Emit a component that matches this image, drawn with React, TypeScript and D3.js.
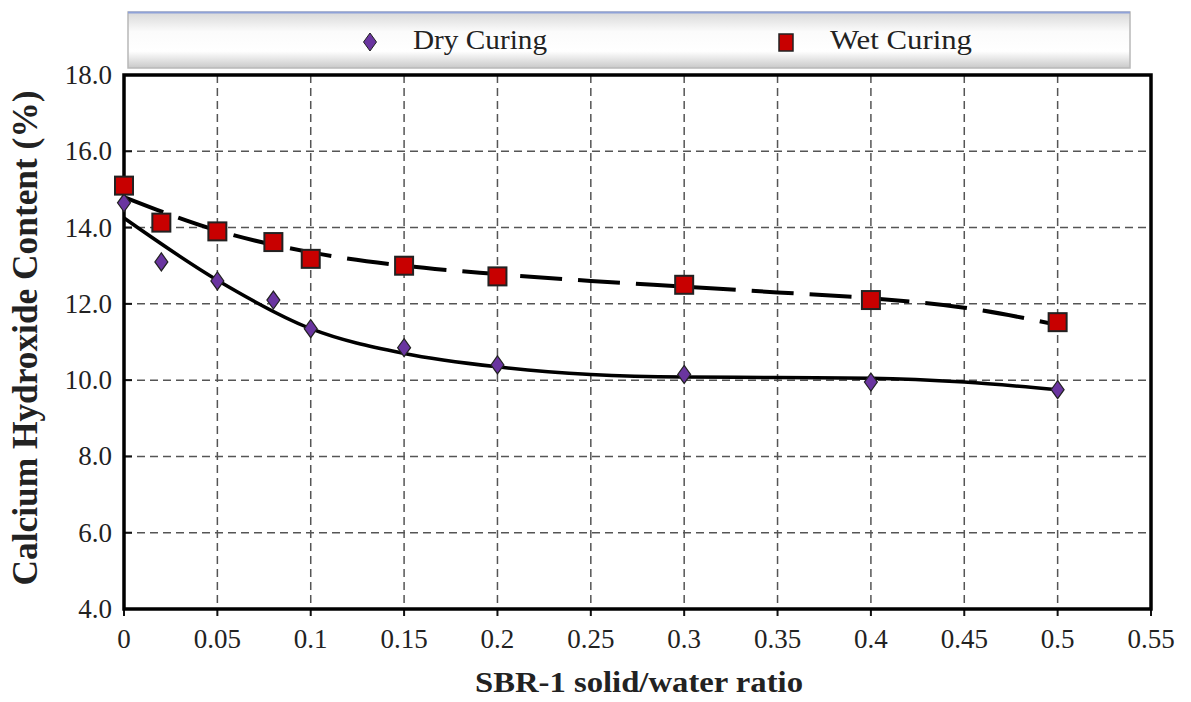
import React from "react";
import * as d3 from "d3";

// measured values
const ratios = [0, 0.02, 0.05, 0.08, 0.1, 0.15, 0.2, 0.3, 0.4, 0.5];
const dryCuring = [14.65, 13.1, 12.6, 12.1, 11.35, 10.85, 10.4, 10.15, 9.95, 9.75];
const wetCuring = [15.1, 14.13, 13.9, 13.62, 13.18, 13.0, 12.72, 12.5, 12.1, 11.52];

// trend lines
const fitX = [0, 0.05, 0.1, 0.15, 0.2, 0.25, 0.3, 0.35, 0.4, 0.45, 0.5];
const dryFit = [14.25, 12.62, 11.35, 10.7, 10.35, 10.15, 10.08, 10.07, 10.05, 9.95, 9.75];
const wetFit = [14.8, 13.92, 13.35, 13.0, 12.78, 12.6, 12.45, 12.3, 12.15, 11.9, 11.45];

const xTicks = [0, 0.05, 0.1, 0.15, 0.2, 0.25, 0.3, 0.35, 0.4, 0.45, 0.5, 0.55];
const yTicks = [4, 6, 8, 10, 12, 14, 16, 18];

const W = 1191;
const H = 702;
const margin = { left: 124, right: 40, top: 75, bottom: 93 };

const font = "Liberation Serif";

const App = () => {
  const x = d3.scaleLinear().domain([0, 0.55]).range([margin.left, W - margin.right]);
  const y = d3.scaleLinear().domain([4, 18]).range([H - margin.bottom, margin.top]);

  const line = d3
    .line<number>()
    .x((d, i) => x(fitX[i]))
    .y((d) => y(d))
    .curve(d3.curveMonotoneX);

  const diamond = (cx: number, cy: number, s: number) =>
    `M${cx},${cy - s} L${cx + s * 0.72},${cy} L${cx},${cy + s} L${cx - s * 0.72},${cy} Z`;

  const txt = { fontFamily: font, fill: "#222" };

  return (
    <svg width={W} height={H} style={{ position: "absolute", left: 0, top: 0, background: "#fff" }}>
      <defs>
        <linearGradient id="legendBg" x1="0" y1="0" x2="0" y2="1">
          <stop offset="0" stopColor="#d8d8d8" />
          <stop offset="0.35" stopColor="#fbfbfb" />
          <stop offset="0.7" stopColor="#ffffff" />
          <stop offset="1" stopColor="#c9c9c9" />
        </linearGradient>
        <clipPath id="plotClip">
          <rect x={margin.left} y={margin.top} width={x(0.55) - x(0)} height={y(4) - y(18)} />
        </clipPath>
      </defs>

      {/* legend */}
      <rect x={128} y={12} width={1002} height={56} fill="url(#legendBg)" stroke="#b8b8b8" strokeWidth={1.5} />
      <line x1={128} x2={1130} y1={12.5} y2={12.5} stroke="#8fa2d8" strokeWidth={2} />
      <path d={diamond(370, 42, 9)} fill="#6a35a0" stroke="#222" strokeWidth={1} />
      <text x={413} y={49} fontSize={28} textLength={134} lengthAdjust="spacingAndGlyphs" style={txt}>
        Dry Curing
      </text>
      <rect x={779} y={34} width={14} height={17} fill="#c80000" stroke="#222" strokeWidth={1.5} />
      <text x={830} y={49} fontSize={28} textLength={142} lengthAdjust="spacingAndGlyphs" style={txt}>
        Wet Curing
      </text>

      {/* grid */}
      {xTicks.slice(1, -1).map((t) => (
        <line key={"gx" + t} x1={x(t)} x2={x(t)} y1={y(18)} y2={y(4)} stroke="#555" strokeWidth={1.5} strokeDasharray="8,5" />
      ))}
      {yTicks.slice(1, -1).map((t) => (
        <line key={"gy" + t} x1={x(0)} x2={x(0.55)} y1={y(t)} y2={y(t)} stroke="#555" strokeWidth={1.5} strokeDasharray="8,5" />
      ))}

      {/* ticks */}
      {xTicks.map((t) => (
        <g key={"xt" + t}>
          <line x1={x(t)} x2={x(t)} y1={y(4)} y2={y(4) + 7} stroke="#111" strokeWidth={2} />
          <text x={x(t)} y={y(4) + 39} textAnchor="middle" fontSize={27} style={txt}>
            {String(t)}
          </text>
        </g>
      ))}
      {yTicks.map((t) => (
        <g key={"yt" + t}>
          <line x1={x(0)} x2={x(0) + 8} y1={y(t)} y2={y(t)} stroke="#111" strokeWidth={2} />
          <text x={x(0) - 12} y={y(t) + 9} textAnchor="end" fontSize={27} style={txt}>
            {t.toFixed(1)}
          </text>
        </g>
      ))}

      {/* trend lines */}
      <g clipPath="url(#plotClip)">
        <path d={line(dryFit) || ""} fill="none" stroke="#000" strokeWidth={3.5} />
        <path d={line(wetFit) || ""} fill="none" stroke="#000" strokeWidth={4} strokeDasharray="42,16" />
      </g>

      {/* frame */}
      <rect x={x(0)} y={y(18)} width={x(0.55) - x(0)} height={y(4) - y(18)} fill="none" stroke="#000" strokeWidth={3.5} />

      {/* markers */}
      {ratios.map((r, i) => (
        <path key={"d" + i} d={diamond(x(r), y(dryCuring[i]), 9)} fill="#6a35a0" stroke="#222" strokeWidth={1.2} />
      ))}
      {ratios.map((r, i) => (
        <rect key={"s" + i} x={x(r) - 9} y={y(wetCuring[i]) - 9} width={18} height={18} fill="#c80000" stroke="#222" strokeWidth={2} />
      ))}

      {/* axis titles */}
      <text
        transform="translate(37,338) rotate(-90)"
        textAnchor="middle"
        fontWeight="bold"
        fontSize={36}
        textLength={495}
        lengthAdjust="spacingAndGlyphs"
        style={txt}
      >
        Calcium Hydroxide Content (%)
      </text>
      <text
        x={639}
        y={692}
        textAnchor="middle"
        fontWeight="bold"
        fontSize={29}
        textLength={328}
        lengthAdjust="spacingAndGlyphs"
        style={txt}
      >
        SBR-1 solid/water ratio
      </text>
    </svg>
  );
};

export default App;
